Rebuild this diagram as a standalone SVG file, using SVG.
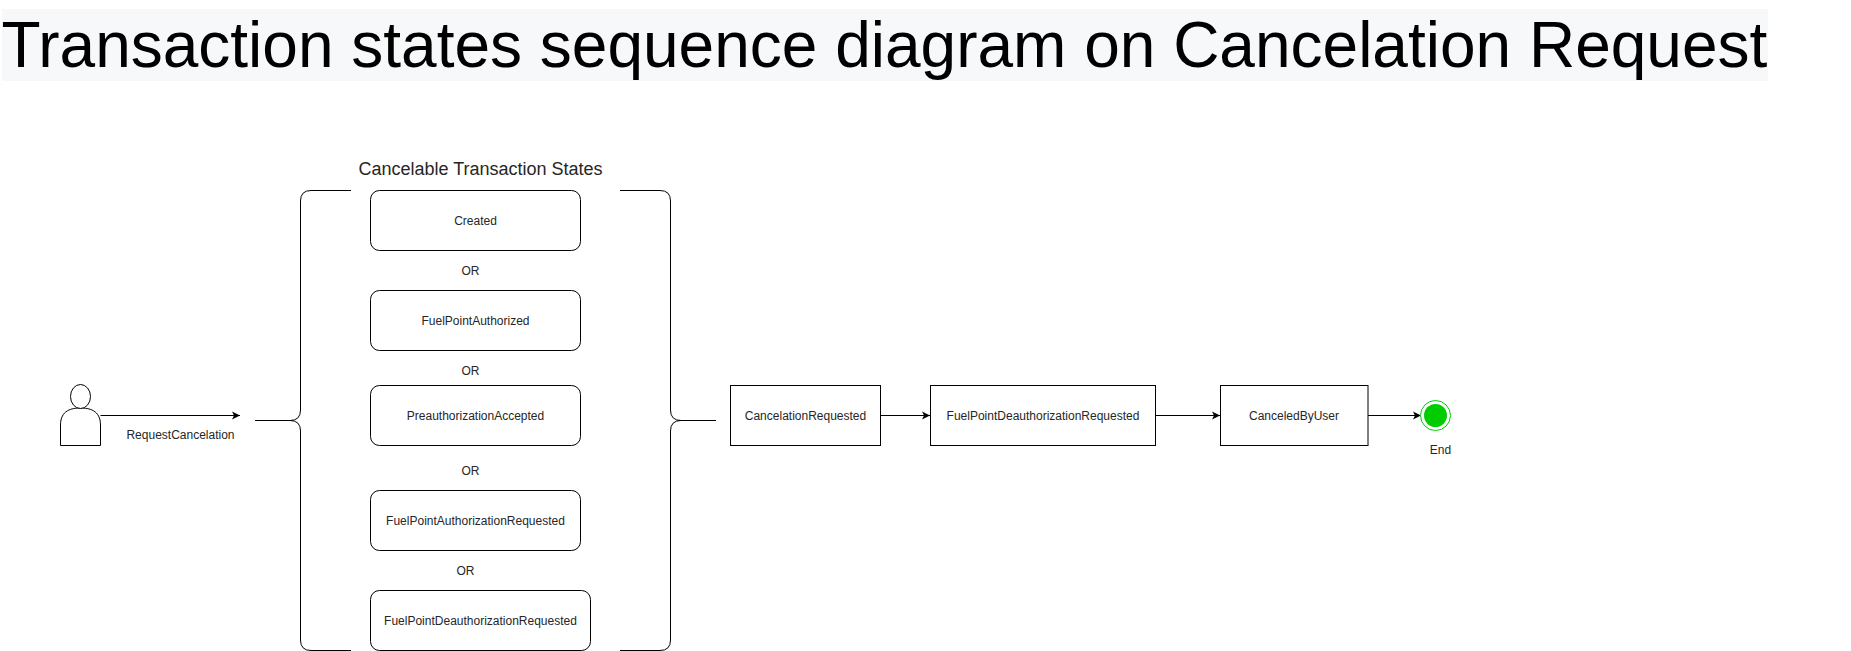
<svg xmlns="http://www.w3.org/2000/svg" width="1851" height="651" viewBox="0 0 1851 651">
<style>
text{font-family:"Liberation Sans",Arial,sans-serif;fill:#262626;font-size:12px;text-anchor:middle}
.b{fill:#fff;stroke:#000;stroke-width:1}
.c{fill:none;stroke:#000;stroke-width:1}
.a{marker-end:url(#arrow)}
</style>
<defs><marker id="arrow" markerUnits="userSpaceOnUse" markerWidth="10" markerHeight="10" refX="8" refY="5" orient="auto"><path d="M0 1L8 5L0 9L2 5Z" fill="#000"/></marker></defs>
<rect width="1851" height="651" fill="#fff"/>
<g id="title"><rect x="2" y="9" width="1766" height="72" fill="#f6f8fa"/><text x="1.500" y="67" style="font-size:64px;text-anchor:start;fill:#000">Transaction states sequence diagram on Cancelation Request</text></g>
<g id="connectors">
<path class="c a" d="M100.500 415.500H240"/>
<path class="c a" d="M880.500 415.500H930"/>
<path class="c a" d="M1156 415.500H1220"/>
<path class="c a" d="M1368 415.500H1421"/>
</g>
<g id="actor"><path class="b" d="M60.500 445.500V425C60.500 410 72 408 80.500 408C89 408 100.500 410 100.500 425V445.500Z"/><ellipse class="b" cx="80.500" cy="396.500" rx="10" ry="12"/><text x="180.500" y="439">RequestCancelation</text></g>
<g id="brace-left"><path class="c" d="M351 190.500H311Q300.500 190.500 300.500 201V410Q300.500 420.500 290 420.500H255M290 420.500Q300.500 420.500 300.500 431V640Q300.500 650.500 311 650.500H351"/></g>
<g id="brace-right"><path class="c" d="M620 190.500H660Q670.500 190.500 670.500 201V410Q670.500 420.500 681 420.500H716M681 420.500Q670.500 420.500 670.500 431V640Q670.500 650.500 660 650.500H620"/></g>
<g id="group-label"><text x="480.500" y="174.500" style="font-size:18px">Cancelable Transaction States</text></g>
<g id="s1"><rect class="b" x="370.500" y="190.500" width="210" height="60" rx="9"/><text x="475.500" y="224.500">Created</text></g>
<g id="s2"><rect class="b" x="370.500" y="290.500" width="210" height="60" rx="9"/><text x="475.500" y="324.500">FuelPointAuthorized</text></g>
<g id="s3"><rect class="b" x="370.500" y="385.500" width="210" height="60" rx="9"/><text x="475.500" y="419.500">PreauthorizationAccepted</text></g>
<g id="s4"><rect class="b" x="370.500" y="490.500" width="210" height="60" rx="9"/><text x="475.500" y="524.500">FuelPointAuthorizationRequested</text></g>
<g id="s5"><rect class="b" x="370.500" y="590.500" width="220" height="60" rx="9"/><text x="480.500" y="624.500">FuelPointDeauthorizationRequested</text></g>
<g id="ors"><text x="470.500" y="275">OR</text><text x="470.500" y="375">OR</text><text x="470.500" y="475">OR</text><text x="465.500" y="575">OR</text></g>
<g id="n1"><rect class="b" x="730.500" y="385.500" width="150" height="60"/><text x="805.500" y="419.500">CancelationRequested</text></g>
<g id="n2"><rect class="b" x="930.500" y="385.500" width="225" height="60"/><text x="1043" y="419.500">FuelPointDeauthorizationRequested</text></g>
<g id="n3"><rect class="b" x="1220.500" y="385.500" width="147.500" height="60"/><text x="1294" y="419.500">CanceledByUser</text></g>
<g id="end"><circle cx="1435.500" cy="415.500" r="15" fill="#fff" stroke="#00cc00" stroke-width="1"/><circle cx="1435.500" cy="415.500" r="11.500" fill="#00cc00"/><text x="1440.500" y="454">End</text></g>
</svg>
